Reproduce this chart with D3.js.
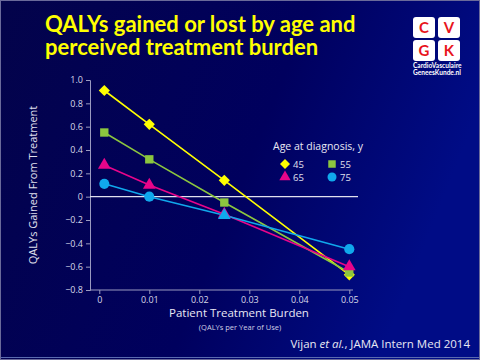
<!DOCTYPE html>
<html><head><meta charset="utf-8">
<script src="https://cdn.jsdelivr.net/npm/d3@7/dist/d3.min.js"></script>
<style>html,body{margin:0;padding:0;background:#000060;}svg{display:block;}</style>
</head><body>
<svg id="c" width="480" height="360"></svg>
<script>
const xValues = [0.001, 0.01, 0.025, 0.05];
const ages = ["45", "55", "65", "75"];
const values45 = [0.91, 0.62, 0.14, -0.67];
const values55 = [0.55, 0.32, -0.05, -0.65];
const values65 = [0.27, 0.10, -0.15, -0.60];
const values75 = [0.11, 0.00, -0.16, -0.45];
const xTicks = [0, 0.01, 0.02, 0.03, 0.04, 0.05];
const yTicks = [1.0, 0.8, 0.6, 0.4, 0.2, 0, -0.2, -0.4, -0.6, -0.8];

const series = [
  {age: ages[0], vals: values45, color: "#ffff00", sym: "diamond"},
  {age: ages[1], vals: values55, color: "#8cc63f", sym: "square"},
  {age: ages[2], vals: values65, color: "#e8058a", sym: "triangle"},
  {age: ages[3], vals: values75, color: "#10a8ec", sym: "circle", shapes: ["circle","circle","triangle","circle"]}
];
const symTypes = {diamond: d3.symbolSquare, square: d3.symbolSquare, triangle: d3.symbolTriangle, circle: d3.symbolCircle};
const symSizes = {diamond: 62, square: 70, triangle: 70, circle: 80};
const symRot = {diamond: 45, square: 0, triangle: 0, circle: 0};

const svg = d3.select("#c");
const defs = svg.append("defs");
const g1 = defs.append("linearGradient").attr("id","bg").attr("x1","0").attr("y1","0").attr("x2","1").attr("y2","0.3");
g1.append("stop").attr("offset","0").attr("stop-color","#03034a");
g1.append("stop").attr("offset","0.6").attr("stop-color","#00005e");
g1.append("stop").attr("offset","1").attr("stop-color","#000c86");
svg.append("rect").attr("width",480).attr("height",360).attr("fill","url(#bg)");
svg.append("rect").attr("x",0.5).attr("y",0.5).attr("width",479).attr("height",359).attr("fill","none").attr("stroke","#6a6a9a").attr("stroke-width",1);
svg.append("line").attr("x1",1).attr("x2",479).attr("y1",357.5).attr("y2",357.5).attr("stroke","#5a6ab0").attr("stroke-width",1);

// Title
const title = svg.append("text").attr("fill","#ffff00").attr("font-family","Lato, 'Open Sans', sans-serif").attr("font-weight","bold").attr("font-size",22);
title.append("tspan").attr("x",45).attr("y",32).text("QALYs gained or lost by age and");
title.append("tspan").attr("x",45).attr("y",55).text("perceived treatment burden");

// Logo
const logo = svg.append("g");
const letters = [["C",413,17],["V",438,17],["G",413,40],["K",438,40]];
letters.forEach(([l,x,y])=>{
  logo.append("rect").attr("x",x).attr("y",y).attr("width",22).attr("height",21).attr("rx",3).attr("fill","#ffffff");
  logo.append("text").attr("x",x+11).attr("y",y+16).attr("text-anchor","middle").attr("fill","#e8141c").attr("font-family","Lato, sans-serif").attr("font-weight","bold").attr("font-size",15).text(l);
});
logo.append("text").attr("x",413).attr("y",68).attr("fill","#fff").attr("font-family","Lato, sans-serif").attr("font-weight","bold").attr("font-size",6.6).text("CardioVasculaire");
logo.append("text").attr("x",413).attr("y",75).attr("fill","#fff").attr("font-family","Lato, sans-serif").attr("font-weight","bold").attr("font-size",6.6).text("GeneesKunde.nl");

// Scales
const x = d3.scaleLinear().domain([0, 0.05]).range([99.3, 349.3]);
const y = d3.scaleLinear().domain([-0.8, 1.0]).range([290, 80]);

const axisColor = "#9a9ac0";
const tickText = "#d8d8e8";
const font = "'Open Sans', 'Noto Sans', sans-serif";

// Y axis
const ya = svg.append("g").attr("transform","translate(90,0)")
  .call(d3.axisLeft(y).tickValues(yTicks).tickSize(4).tickPadding(3)
    .tickFormat(d => d === 0 ? "0" : (d < 0 ? "\u2212" + Math.abs(d).toFixed(1) : d.toFixed(1))));
ya.select(".domain").attr("stroke",axisColor);
ya.selectAll(".tick line").attr("stroke",axisColor);
ya.selectAll(".tick text").attr("fill",tickText).attr("font-family",font).attr("font-size",9);

// X axis
const xa = svg.append("g").attr("transform","translate(0,290)")
  .call(d3.axisBottom(x).tickValues(xTicks).tickSize(4).tickPadding(3).tickSizeOuter(0)
    .tickFormat(d => d === 0 ? "0" : d3.format(".2f")(d)));
xa.select(".domain").attr("stroke",axisColor).attr("d","M90,0H353");
xa.selectAll(".tick line").attr("stroke",axisColor);
xa.selectAll(".tick text").attr("fill",tickText).attr("font-family",font).attr("font-size",9);

// Zero line
svg.append("line").attr("x1",90).attr("x2",358).attr("y1",y(0)).attr("y2",y(0)).attr("stroke","#e0e0ee").attr("stroke-width",1.2);

// Axis labels
svg.append("text").attr("transform",`translate(37,${y(0.1)}) rotate(-90)`).attr("text-anchor","middle")
  .attr("fill","#e0e0ee").attr("font-family",font).attr("font-size",11).text("QALYs Gained From Treatment");
svg.append("text").attr("x",239).attr("y",317).attr("text-anchor","middle").attr("fill","#e8e8f4").attr("font-family",font).attr("font-size",11.5).text("Patient Treatment Burden");
svg.append("text").attr("x",240).attr("y",330).attr("text-anchor","middle").attr("fill","#d0d0e4").attr("font-family",font).attr("font-size",7.5).text("(QALYs per Year of Use)");

// Citation
const cit = svg.append("text").attr("x",470).attr("y",348).attr("text-anchor","end").attr("fill","#e8e8f4").attr("font-family",font).attr("font-size",11.5);
cit.append("tspan").text("Vijan ");
cit.append("tspan").attr("font-style","italic").text("et al.");
cit.append("tspan").text(", JAMA Intern Med 2014");

// Lines
const line = d3.line().x((d,i)=>x(xValues[i])).y(d=>y(d));
series.forEach(s=>{
  svg.append("path").datum(s.vals).attr("d",line).attr("fill","none").attr("stroke",s.color).attr("stroke-width",1.6);
});
series.forEach(s=>{
  svg.selectAll(null).data(s.vals).enter().append("path")
    .attr("transform",(d,i)=>{
      const k = s.shapes ? s.shapes[i] : s.sym;
      return `translate(${x(xValues[i])},${y(d)}) rotate(${symRot[k]})`;
    })
    .attr("d",(d,i)=>{
      const k = s.shapes ? s.shapes[i] : s.sym;
      return d3.symbol().type(symTypes[k]).size(symSizes[k])();
    })
    .attr("fill",s.color);
});

// Legend
svg.append("text").attr("x",273).attr("y",150).attr("fill","#e8e8f4").attr("font-family",font).attr("font-size",10.5).text("Age at diagnosis, y");
const legPos = [[285,164],[332,164],[285,177],[332,177]];
series.forEach((s,i)=>{
  const [lx,ly] = legPos[i];
  svg.append("path").attr("transform",`translate(${lx},${ly}) rotate(${symRot[s.sym]})`).attr("d",d3.symbol().type(symTypes[s.sym]).size(symSizes[s.sym]*0.8)()).attr("fill",s.color);
  svg.append("text").attr("x",lx+8).attr("y",ly+3.5).attr("fill","#e0e0ee").attr("font-family",font).attr("font-size",9.5).text(s.age);
});
</script>
</body></html>
